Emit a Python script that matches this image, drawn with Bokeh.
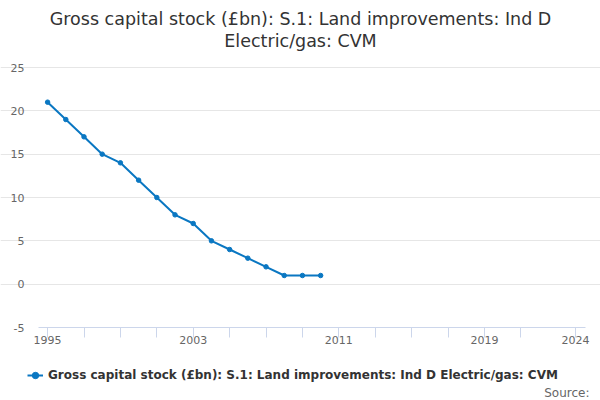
from bokeh.plotting import figure
from bokeh.models import (ColumnDataSource, Range1d, FixedTicker, Legend, LegendItem, Label,
                          PrintfTickFormatter)
from bokeh.embed import file_html
from bokeh.resources import INLINE

years = list(range(1995, 2011))
values = [21, 19, 17, 15, 14, 12, 10, 8, 7, 5, 4, 3, 2, 1, 1, 1]
x_tick_labels = [1995, 2003, 2011, 2019, 2024]
x_minor_ticks = [1997, 1999, 2001, 2005, 2007, 2009, 2013, 2015, 2017, 2021]
y_ticks = [-5, 0, 5, 10, 15, 20, 25]
series_name = "Gross capital stock (£bn): S.1: Land improvements: Ind D Electric/gas: CVM"
title_lines = ["Gross capital stock (£bn): S.1: Land improvements: Ind D", "Electric/gas: CVM"]
source_text = "Source:"

FONT = "DejaVu Sans"
COLOR = "#0a77c2"
W, H = 600, 400

# plot-area extents (data) and pixel geometry
X0, X1 = 1994.5, 2024.55
Y0, Y1 = -5, 25
px_left, px_right, px_top, px_bottom = 38, 585, 67, 327
xs = (px_right - px_left) / (X1 - X0)
ys = (px_bottom - px_top) / (Y1 - Y0)

src = ColumnDataSource(data=dict(x=years, y=values))

p = figure(width=W, height=H, output_backend="svg", toolbar_location=None,
           x_range=Range1d(X0 - px_left / xs, X1 + (W - px_right) / xs),
           y_range=Range1d(Y0 - (H - px_bottom) / ys, Y1 + px_top / ys),
           min_border=0)
p.outline_line_color = None
p.background_fill_color = "white"
p.border_fill_color = "white"

line = p.line("x", "y", source=src, line_color=COLOR, line_width=2)
pts = p.scatter("x", "y", source=src, size=4.5, fill_color=COLOR, line_color=COLOR)

# y axis (fixed inside the frame)
p.yaxis.fixed_location = X0
p.yaxis.ticker = FixedTicker(ticks=y_ticks)
p.yaxis.formatter = PrintfTickFormatter(format="%d")
p.yaxis.axis_line_color = None
p.yaxis.major_tick_line_color = None
p.yaxis.minor_tick_line_color = None
p.yaxis.major_tick_in = 0
p.yaxis.major_tick_out = 0
p.yaxis.major_label_text_font = FONT
p.yaxis.major_label_text_font_size = "11px"
p.yaxis.major_label_text_color = "#666666"
p.yaxis.major_label_standoff = 14
p.ygrid.grid_line_color = "#e6e6e6"
p.ygrid.ticker = FixedTicker(ticks=y_ticks[1:])
p.ygrid.bounds = (X0, X1)

# x axis (fixed at y = -5)
p.xaxis.fixed_location = Y0
p.xaxis.bounds = (X0, X1)
p.xaxis.ticker = FixedTicker(ticks=x_tick_labels, minor_ticks=x_minor_ticks)
p.xaxis.formatter = PrintfTickFormatter(format="%d")
p.xaxis.axis_line_color = "#ccd6eb"
p.xaxis.major_tick_line_color = "#ccd6eb"
p.xaxis.minor_tick_line_color = "#ccd6eb"
p.xaxis.major_tick_in = 0
p.xaxis.major_tick_out = 10
p.xaxis.minor_tick_in = 0
p.xaxis.minor_tick_out = 10
p.xaxis.major_label_standoff = -2
p.xaxis.major_label_text_font = FONT
p.xaxis.major_label_text_font_size = "11px"
p.xaxis.major_label_text_color = "#666666"
p.xgrid.grid_line_color = None

# title
for i, t in enumerate(title_lines):
    p.add_layout(Label(x=W / 2, y=H - 18 - 22 * i, x_units="screen", y_units="screen",
                       text=t, text_align="center", text_baseline="middle",
                       text_font=FONT, text_font_size="17.5px", text_color="#333333"))

legend = Legend(items=[LegendItem(label=series_name, renderers=[line, pts])],
                orientation="horizontal", location=(27, 15),
                label_text_font=FONT, label_text_font_size="12px",
                label_text_font_style="bold", label_text_color="#333333",
                border_line_color=None, background_fill_alpha=0,
                glyph_width=16, glyph_height=20, label_height=20,
                label_standoff=5, margin=0, padding=0)
p.add_layout(legend, "center")

p.add_layout(Label(x=589, y=H - 392, x_units="screen", y_units="screen", text=source_text,
                   text_align="right", text_baseline="middle", text_font=FONT,
                   text_font_size="12px", text_color="#666666"))

open("out.html", "w").write(file_html(p, INLINE))
